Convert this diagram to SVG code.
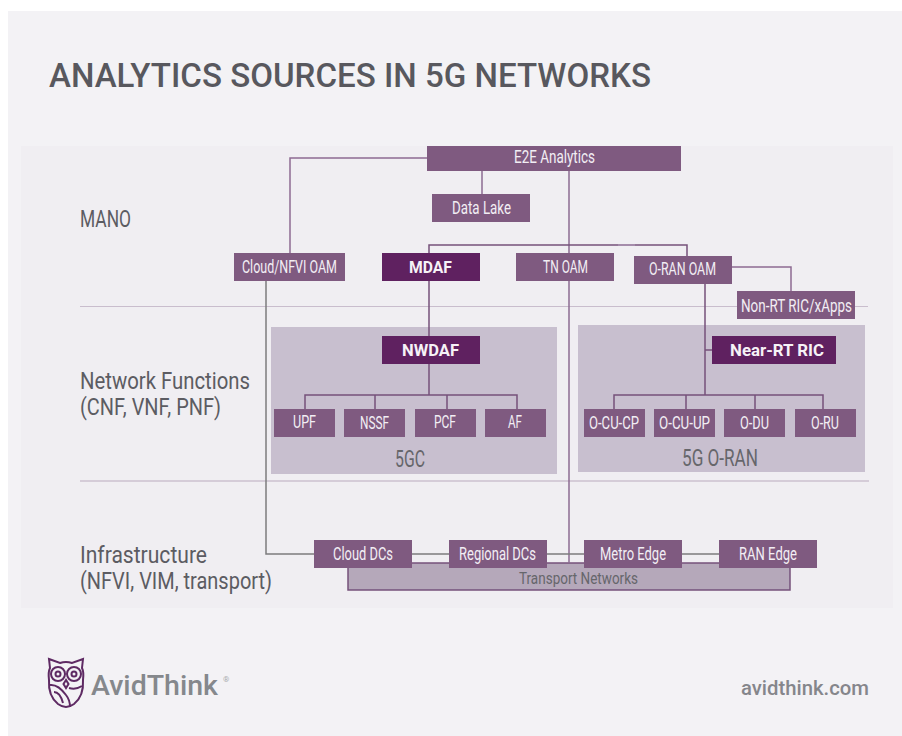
<svg xmlns="http://www.w3.org/2000/svg" width="902" height="736" viewBox="0 0 902 736">
<style>
text{font-family:"Roboto","Liberation Sans",sans-serif}
.n{fill:#7f5a80}.d{fill:#5f2160}
.t{font-size:17.5px;fill:#f2eef4}
.b{font-size:16.5px;font-weight:700;fill:#f6f2f7}
.l{font-size:24px;fill:#5c5c62}
.c{font-size:23px;fill:#66666b}
.w{fill:none;stroke:#8d6b92;stroke-width:1.5}
.k{fill:none;stroke:#75527b;stroke-width:1.5}
.g{fill:none;stroke:#7c7c7e;stroke-width:1.5}
.o{fill:none;stroke:#5e2a63;stroke-width:2}
</style>
<rect width="902" height="736" fill="#fff"/>
<rect x="8" y="11" width="894" height="725" fill="#f3f2f5"/>
<rect x="21" y="146" width="872" height="462" fill="#f0eef2"/>
<text x="49" y="87" font-size="34" font-weight="500" fill="#58585e" textLength="602" lengthAdjust="spacingAndGlyphs">ANALYTICS SOURCES IN 5G NETWORKS</text>
<g id="bands">
<line x1="80" y1="306.5" x2="868" y2="306.5" stroke="#c9bdcd" stroke-width="1.2"/>
<line x1="80" y1="481" x2="869" y2="481" stroke="#d5ccd8" stroke-width="2"/>
<rect x="271" y="327" width="286" height="147" fill="#c8bfcf"/>
<rect x="578" y="325" width="287" height="147" fill="#c8bfcf"/>
<text class="c" x="395" y="467" textLength="30" lengthAdjust="spacingAndGlyphs">5GC</text>
<text class="c" x="682" y="466" textLength="76" lengthAdjust="spacingAndGlyphs">5G O-RAN</text>
<text class="l" x="80" y="227" textLength="51" lengthAdjust="spacingAndGlyphs">MANO</text>
<text class="l" x="80" y="389" textLength="170" lengthAdjust="spacingAndGlyphs">Network Functions</text>
<text class="l" x="80" y="415" textLength="141" lengthAdjust="spacingAndGlyphs">(CNF, VNF, PNF)</text>
<text class="l" x="80" y="563" textLength="127" lengthAdjust="spacingAndGlyphs">Infrastructure</text>
<text class="l" x="80" y="589" textLength="192" lengthAdjust="spacingAndGlyphs">(NFVI, VIM, transport)</text>
</g>
<g id="transport-networks">
<rect x="348" y="563" width="442" height="27" fill="#b5a8ba" stroke="#75527b" stroke-width="1.5"/>
<text x="519" y="584" font-size="17" fill="#66666b" textLength="119" lengthAdjust="spacingAndGlyphs">Transport Networks</text>
</g>
<g id="connectors">
<path class="w" d="M427 158H290V253"/>
<path class="w" d="M482 171V194"/>
<path class="w" d="M569 171V563"/>
<path class="k" d="M429 253V245H687V256"/>
<path d="M618 245H635" stroke="#a58cab" stroke-width="2"/>
<path class="w" d="M732 267H791V291"/>
<path class="g" d="M266 281V554H314"/>
<path class="g" d="M412 554H449M547 554H584M682 554H719"/>
<path class="k" d="M429 281V336M429 364V395"/>
<path class="k" d="M305 409V395H517V409M375 395V409M447 395V409"/>
<path class="k" d="M705 284V395M705 350H712"/>
<path class="k" d="M614 409V395H823V409M686 395V409M755 395V409"/>
</g>
<g id="e2e-analytics"><rect class="n" x="427" y="146" width="254" height="25"/><text class="t" x="514" y="163" textLength="81" lengthAdjust="spacingAndGlyphs">E2E Analytics</text></g>
<g id="data-lake"><rect class="n" x="432" y="194" width="98" height="28"/><text class="t" x="452" y="214" textLength="59" lengthAdjust="spacingAndGlyphs">Data Lake</text></g>
<g id="cloud-nfvi-oam"><rect class="n" x="234" y="253" width="111" height="28"/><text class="t" x="242" y="273" textLength="95" lengthAdjust="spacingAndGlyphs">Cloud/NFVI OAM</text></g>
<g id="mdaf"><rect class="d" x="382" y="253" width="98" height="28"/><text class="b" x="409" y="273" textLength="43" lengthAdjust="spacingAndGlyphs">MDAF</text></g>
<g id="tn-oam"><rect class="n" x="516" y="253" width="98" height="28"/><text class="t" x="543" y="273" textLength="45" lengthAdjust="spacingAndGlyphs">TN OAM</text></g>
<g id="o-ran-oam"><rect class="n" x="634" y="256" width="98" height="28"/><text class="t" x="649" y="275" textLength="67" lengthAdjust="spacingAndGlyphs">O-RAN OAM</text></g>
<g id="non-rt-ric"><rect class="n" x="737" y="291" width="118" height="28"/><text class="t" x="741" y="312" textLength="111" lengthAdjust="spacingAndGlyphs">Non-RT RIC/xApps</text></g>
<g id="nwdaf"><rect class="d" x="382" y="336" width="98" height="28"/><text class="b" x="402" y="356" textLength="57" lengthAdjust="spacingAndGlyphs">NWDAF</text></g>
<g id="upf"><rect class="n" x="274" y="409" width="61" height="28"/><text class="t" x="293" y="428" textLength="23" lengthAdjust="spacingAndGlyphs">UPF</text></g>
<g id="nssf"><rect class="n" x="344" y="409" width="61" height="28"/><text class="t" x="360" y="429" textLength="29" lengthAdjust="spacingAndGlyphs">NSSF</text></g>
<g id="pcf"><rect class="n" x="415" y="409" width="61" height="28"/><text class="t" x="434" y="428" textLength="22" lengthAdjust="spacingAndGlyphs">PCF</text></g>
<g id="af"><rect class="n" x="485" y="409" width="61" height="28"/><text class="t" x="508" y="428" textLength="14" lengthAdjust="spacingAndGlyphs">AF</text></g>
<g id="near-rt-ric"><rect class="d" x="712" y="336" width="124" height="28"/><text class="b" x="730" y="356" textLength="94" lengthAdjust="spacingAndGlyphs">Near-RT RIC</text></g>
<g id="o-cu-cp"><rect class="n" x="584" y="409" width="61" height="28"/><text class="t" x="589" y="429" textLength="50" lengthAdjust="spacingAndGlyphs">O-CU-CP</text></g>
<g id="o-cu-up"><rect class="n" x="654" y="409" width="61" height="28"/><text class="t" x="659" y="429" textLength="51" lengthAdjust="spacingAndGlyphs">O-CU-UP</text></g>
<g id="o-du"><rect class="n" x="724" y="409" width="61" height="28"/><text class="t" x="740" y="429" textLength="29" lengthAdjust="spacingAndGlyphs">O-DU</text></g>
<g id="o-ru"><rect class="n" x="795" y="409" width="61" height="28"/><text class="t" x="811" y="429" textLength="28" lengthAdjust="spacingAndGlyphs">O-RU</text></g>
<g id="cloud-dcs"><rect class="n" x="314" y="540" width="98" height="28"/><text class="t" x="333" y="560" textLength="60" lengthAdjust="spacingAndGlyphs">Cloud DCs</text></g>
<g id="regional-dcs"><rect class="n" x="449" y="540" width="98" height="28"/><text class="t" x="459" y="560" textLength="77" lengthAdjust="spacingAndGlyphs">Regional DCs</text></g>
<g id="metro-edge"><rect class="n" x="584" y="540" width="98" height="28"/><text class="t" x="600" y="560" textLength="66" lengthAdjust="spacingAndGlyphs">Metro Edge</text></g>
<g id="ran-edge"><rect class="n" x="719" y="540" width="98" height="28"/><text class="t" x="739" y="560" textLength="58" lengthAdjust="spacingAndGlyphs">RAN Edge</text></g>
<g id="logo">
<path class="o" d="M49 659L60 663Q66 661 72 663L83 659L82 668Q84 672 83 680Q84 696 74 704Q66 710 58 704Q48 696 49 680Q48 672 50 668Z"/>
<circle class="o" cx="58" cy="674" r="7"/><circle class="o" cx="74" cy="674" r="7"/>
<circle class="o" cx="58" cy="674" r="2.500"/><circle class="o" cx="74" cy="674" r="2.500"/>
<path class="o" d="M66 680L63.500 684L66 688L68.500 684Z"/>
<path class="o" d="M50 685Q58 684 66 695Q70 700 70 707M54 692Q60 692 63 703M69 688Q76 690 82 686"/>
<text x="91" y="695" font-size="28" font-weight="500" fill="#85888c" textLength="127" lengthAdjust="spacingAndGlyphs">AvidThink</text>
<text x="223" y="682" font-size="8" fill="#a9abae">®</text>
</g>
<text x="741" y="695" font-size="20" font-weight="500" fill="#85868b" textLength="128" lengthAdjust="spacingAndGlyphs">avidthink.com</text>
</svg>
